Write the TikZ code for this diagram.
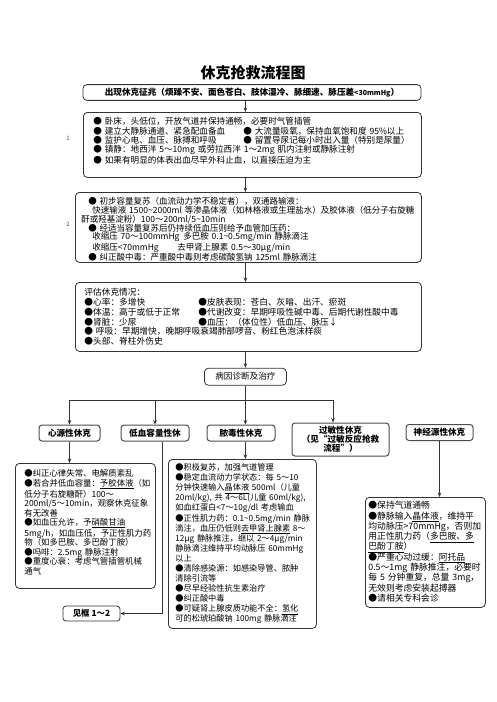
\documentclass[tikz,border=0pt]{standalone}
\usepackage{fontspec}
\setmainfont{Noto Sans CJK SC}
\usetikzlibrary{arrows.meta, positioning}

\begin{document}
\begin{tikzpicture}[x=1pt, y=-1pt,
    box/.style={draw=black!80, line width=0.8pt, rounded corners=4pt, anchor=north west,
        align=left, inner ysep=3pt},
    kind/.style={draw=black!70, line width=1pt, rounded corners=3pt, minimum height=16pt,
        inner xsep=2pt, align=center, font=\fontsize{8.6}{9}\selectfont\bfseries},
    tag/.style={inner sep=0pt, font=\fontsize{6}{6}\selectfont, text=black!70},
    line/.style={draw=black!80, line width=0.8pt},
    arrow/.style={line, -{Stealth[length=4.5pt, width=3.6pt]}}]
    \useasboundingbox (0,0) rectangle (496,702);

    \node[font=\fontsize{15}{15}\selectfont\bfseries] (title) at (253,73) {休克抢救流程图};
    \node[draw=black!80, line width=0.8pt, rounded corners=4pt, minimum width=338pt, minimum height=15pt,
        font=\fontsize{8.6}{9}\selectfont\bfseries] (sign) at (252,92.5)
        {出现休克征兆（烦躁不安、面色苍白、肢体湿冷、脉细速、脉压差{\fontsize{7}{7}\selectfont<30mmHg}）};

    % first aid
    \node[box, text width=318pt, inner xsep=10pt, text height=9.3pt, text depth=49.7pt,
        font=\fontsize{8.6}{9.4}\selectfont] (firstaid) at (83,112)
        {●~卧床，头低位，开放气道并保持通畅，必要时气管插管\\
         \makebox[150pt][l]{●~建立大静脉通道、紧急配血备血}●~大流量吸氧，保持血氧饱和度~95\%以上\\
         \makebox[150pt][l]{●~监护心电、血压、脉搏和呼吸}●~留置导尿记每小时出入量（特别是尿量）\\
         ●~镇静：地西泮~5～10mg~或劳拉西泮~1～2mg~肌内注射或静脉注射\\
         ●~如果有明显的体表出血尽早外科止血，以直接压迫为主};
    \node[tag] (one) at (68,138) {1};

    % fluids
    \node[box, text width=334pt, inner xsep=6pt, text height=9.3pt, text depth=54.7pt,
        font=\fontsize{8.5}{8.8}\selectfont] (fluid) at (75,192)
        {\hspace*{7pt}●~初步容量复苏（血流动力学不稳定者），双通路输液：\\
         \hspace*{11pt}快速输液~1500\textasciitilde2000ml~等渗晶体液（如林格液或生理盐水）及胶体液（低分子右旋糖\\
         酐或羟基淀粉）100～200ml/5\textasciitilde10min\\
         \hspace*{7pt}●~经适当容量复苏后仍持续低血压则给予血管加压药：\\
         \hspace*{11pt}\makebox[91pt][l]{收缩压~70～100mmHg}多巴胺~0.1\textasciitilde0.5mg/min~静脉滴注\\
         \hspace*{11pt}\makebox[85pt][l]{收缩压<70mmHg}去甲肾上腺素~0.5～30μg/min\\
         \hspace*{7pt}●~纠正酸中毒：严重酸中毒则考虑碳酸氢钠~125ml~静脉滴注};
    \node[tag] (two) at (68,224) {2};

    % assessment
    \node[box, text width=328pt, inner xsep=9pt, text height=10.3pt, text depth=52.7pt,
        font=\fontsize{8.7}{9.8}\selectfont] (assess) at (75,282)
        {评估休克情况：\\
         \makebox[114pt][l]{●心率：多增快}●皮肤表现：苍白、灰暗、出汗、瘀斑\\
         \makebox[114pt][l]{●体温：高于或低于正常}●代谢改变：早期呼吸性碱中毒、后期代谢性酸中毒\\
         \makebox[114pt][l]{●肾脏：少尿}●血压：（体位性）低血压、脉压↓\\
         ●~呼吸：早期增快，晚期呼吸衰竭肺部啰音、粉红色泡沫样痰\\
         ●头部、脊柱外伤史};

    \node[draw=black!80, line width=0.8pt, rounded corners=4pt, minimum width=82pt, minimum height=17pt,
        font=\fontsize{8.6}{9}\selectfont, below=16pt of assess.south, xshift=-3pt] (cause) {病因诊断及治疗};

    % kinds of shock
    \node[kind, minimum width=61pt] (cardio) at (69.5,433) {心源性休克};
    \node[kind, minimum width=68pt] (hypo) at (155,433) {低血容量性休};
    \node[kind, minimum width=68pt] (septic) at (241,433) {脓毒性休克};
    \node[kind, minimum width=97pt, minimum height=33pt] (allergic) at (340.5,439.5)
        {过敏性休克\\（见“过敏反应抢救\\流程”）};
    \node[kind, minimum width=67pt] (neuro) at (439.5,432.5) {神经源性休克};

    % treatment
    \node[box, text width=122pt, inner xsep=9pt, text height=10.3pt, text depth=108.7pt,
        font=\fontsize{8.4}{9.5}\selectfont] (cardiotx) at (15,463)
        {●纠正心律失常、电解质紊乱\\
         ●若合并低血容量：\underline{予胶体液}（如\\
         低分子右旋糖酐）100～\\
         200ml/5～10min，观察休克征象\\
         有无改善\\
         ●如血压允许，予\underline{硝酸甘油}\\
         5mg/h，如血压低，予正性肌力药\\
         物（如多巴胺、多巴酚丁胺）\\
         ●吗啡：2.5mg~静脉注射\\
         ●重度心衰：考虑气管插管机械\\
         通气};
    \node[draw=black!80, line width=0.8pt, rounded corners=3pt, minimum width=57pt, minimum height=15pt,
        font=\fontsize{8.4}{9}\selectfont\bfseries] (seebox) at (91.5,613.5) {见框~1～2};

    \node[box, text width=134pt, inner xsep=7pt, text height=8.3pt, text depth=154.7pt,
        font=\fontsize{8.2}{10.07}\selectfont] (septictx) at (168,459)
        {●积极复苏，加强气道管理\\
         ●稳定血流动力学状态：每~5～10\\
         分钟快速输入\underline{晶体液}~500ml（儿童\\
         20ml/kg),~共~4～6L(儿童~60ml/kg),\\
         如血红蛋白<7～10g/dl~考虑输血\\
         ●正性肌力药：0.1\textasciitilde0.5mg/min~静脉\\
         滴注，血压仍低则\underline{去甲肾上腺素}~8～\\
         12μg~静脉推注，继以~2～4μg/min\\
         静脉滴注维持平均动脉压~60mmHg\\
         以上\\
         ●清除感染源：如感染导管、脓肿\\
         清除引流等\\
         ●尽早经验性抗生素治疗\\
         ●纠正酸中毒\\
         ●可疑肾上腺皮质功能不全：\underline{氢化}\\
         可的松琥珀酸钠~100mg~静脉滴注};

    \node[box, text width=114pt, inner xsep=3pt, text height=8.3pt, text depth=95.7pt,
        font=\fontsize{8.8}{10.3}\selectfont] (neurotx) at (365,497)
        {●保持气道通畅\\
         ●静脉输入\underline{晶体液}，维持平\\
         均动脉压>70mmHg，否则加\\
         用正性肌力药（\underline{多巴胺、多}\\
         \underline{巴酚丁胺}）\\
         ●严重心动过缓：\underline{阿托品}\\
         0.5～1mg~静脉推注，必要时\\
         每~5~分钟重复，总量~3mg，\\
         无效则考虑安装起搏器\\
         ●请相关专科会诊};

    % connectors
    \coordinate (bus) at (245,400);
    \draw[arrow] (sign.south -| cause) -- (firstaid.north -| cause);
    \draw[arrow] (firstaid.south -| cause) -- (fluid.north -| cause);
    \draw[arrow] (fluid.south -| cause) -- (assess.north -| cause);
    \draw[arrow] (assess.south -| cause) -- (cause.north);
    \draw[arrow] (cause.south) -- (cause.south |- septic.north);
    \draw[line] (cardio.north |- bus) -- ([xshift=-7.5pt]allergic.north |- bus);
    \draw[arrow] (cardio.north |- bus) -- (cardio.north);
    \draw[arrow] (hypo.north |- bus) -- (hypo.north);
    \draw[arrow] ([xshift=-7.5pt]allergic.north |- bus) -- ([xshift=-7.5pt]allergic.north);
    \draw[arrow] (cardio.south) -- (cardio.south |- cardiotx.north);
    \draw[arrow] ([xshift=7pt]hypo.south) |- (seebox.east);
    \draw[arrow] (septic.south -| cause) -- (septictx.north -| cause);
    \draw[arrow] (neuro.south) -- (neuro.south |- neurotx.north);
\end{tikzpicture}
\end{document}
